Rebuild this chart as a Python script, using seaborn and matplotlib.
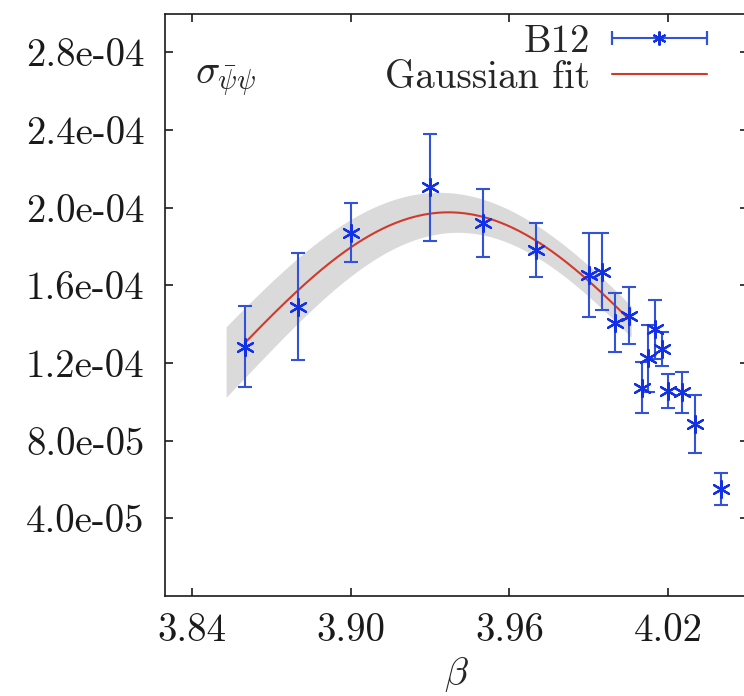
import numpy as np
import pandas as pd
import matplotlib
matplotlib.use("Agg")
import matplotlib.pyplot as plt
import seaborn as sns
from matplotlib.legend_handler import HandlerErrorbar
from matplotlib.lines import Line2D

# ---------------- data ----------------
beta = [3.86, 3.88, 3.90, 3.93, 3.95, 3.97, 3.99, 3.995, 4.00, 4.005,
        4.01, 4.0125, 4.015, 4.0175, 4.02, 4.025, 4.03, 4.04]
sigma_pbp = [1.284e-4, 1.490e-4, 1.871e-4, 2.105e-4, 1.919e-4, 1.782e-4,
             1.652e-4, 1.670e-4, 1.408e-4, 1.444e-4, 1.073e-4, 1.224e-4,
             1.373e-4, 1.272e-4, 1.056e-4, 1.049e-4, 8.86e-5, 5.51e-5]
sigma_err = [2.10e-5, 2.77e-5, 1.52e-5, 2.75e-5, 1.75e-5, 1.41e-5,
             2.15e-5, 1.97e-5, 1.53e-5, 1.45e-5, 1.33e-5, 1.73e-5,
             1.50e-5, 8.8e-6, 8.9e-6, 1.07e-5, 1.50e-5, 8.0e-6]

# Gaussian fit parameters (amplitude, centre, width) and fit range
fit_params = [1.976e-4, 3.937, 0.0843]
fit_range = [3.86, 4.005]
# error band bounds (upper / lower gaussians) and band range
band_upper_params = [2.079e-4, 3.9334, 0.0893]
band_lower_params = [1.873e-4, 3.9404, 0.0795]
band_range = [3.853, 4.006]

xticks = [3.84, 3.90, 3.96, 4.02]
xtick_labels = ["3.84", "3.90", "3.96", "4.02"]
yticks = [4.0e-5, 8.0e-5, 1.2e-4, 1.6e-4, 2.0e-4, 2.4e-4, 2.8e-4]
ytick_labels = ["4.0e-05", "8.0e-05", "1.2e-04", "1.6e-04", "2.0e-04",
                "2.4e-04", "2.8e-04"]
legend_labels = ["B12", "Gaussian fit"]


def gauss(x, p):
    a, mu, s = p
    return a * np.exp(-(x - mu) ** 2 / (2 * s ** 2))


df = pd.DataFrame({"beta": beta, "sigma": sigma_pbp, "err": sigma_err})
xf = np.linspace(fit_range[0], fit_range[1], 300)
fit_df = pd.DataFrame({"beta": xf, "fit": gauss(xf, fit_params)})
xb = np.linspace(band_range[0], band_range[1], 300)

# ---------------- style ----------------
sns.set_theme(style="ticks")
plt.rcParams.update({
    "font.family": ["cmr10", "DejaVu Serif"],
    "mathtext.fontset": "cm",
    "axes.formatter.use_mathtext": True,
    "axes.linewidth": 1.2,
    "axes.edgecolor": "#1a1a1a",
})

blue_bar = "#3253d8"
blue_mark = "#1230e6"
red = "#d03a2c"

fig = plt.figure(figsize=(7.44, 6.96), dpi=100)
ax = fig.add_axes([165.2 / 744, 100 / 696, 582.5 / 744, 582.5 / 696])

# band
ax.fill_between(xb, gauss(xb, band_lower_params), gauss(xb, band_upper_params),
                color="#dadada", lw=0, zorder=1)
# fit line
sns.lineplot(data=fit_df, x="beta", y="fit", color=red, lw=1.5, ax=ax,
             legend=False, zorder=3)

# data points with error bars
ax.errorbar(df["beta"], df["sigma"], yerr=df["err"], fmt="none",
            ecolor=blue_bar, elinewidth=1.5, capsize=5, capthick=1.5, zorder=4)
sns.scatterplot(data=df, x="beta", y="sigma", marker=(6, 2, 0), s=150,
                color=blue_mark, edgecolor=blue_mark, linewidth=1.6, ax=ax,
                legend=False, zorder=5)

# proxy artists for the legend (gnuplot-style horizontal error bar key)
eb_proxy = ax.errorbar([np.nan], [np.nan], xerr=[1.0],
                       marker=(6, 2, 0), ms=10, mew=1.6, mec=blue_mark,
                       color=blue_mark, ecolor=blue_bar, elinewidth=1.5,
                       capsize=5, capthick=1.5, ls="none")
fit_proxy = Line2D([], [], color=red, lw=1.5)

ax.legend([eb_proxy, fit_proxy], legend_labels, loc="upper right",
          bbox_to_anchor=(0.9296, 0.982), frameon=False, markerfirst=False,
          handlelength=2.44, handletextpad=0.56, labelspacing=0.0,
          borderpad=0, borderaxespad=0, fontsize=28,
          handler_map={eb_proxy: HandlerErrorbar(xerr_size=1.22, numpoints=1)})

# axes
ax.set_xlim(3.83, 4.05)
ax.set_ylim(0, 3.0e-4)
ax.set_xticks(xticks)
ax.set_xticklabels(xtick_labels)
ax.set_yticks(yticks)
ax.set_yticklabels(ytick_labels)
ax.tick_params(axis="both", direction="in", length=6, width=1.2,
               top=True, right=True, labelsize=28, colors="#1a1a1a")
ax.tick_params(axis="x", pad=12)
ax.tick_params(axis="y", pad=15)
ax.set_xlabel(r"$\beta$", fontsize=28, labelpad=5)
ax.set_ylabel("")

ax.text(0.051, 0.878, r"$\sigma_{\bar{\psi}\psi}$", transform=ax.transAxes,
        fontsize=29, va="baseline", ha="left")

fig.savefig("out.png", dpi=100)
